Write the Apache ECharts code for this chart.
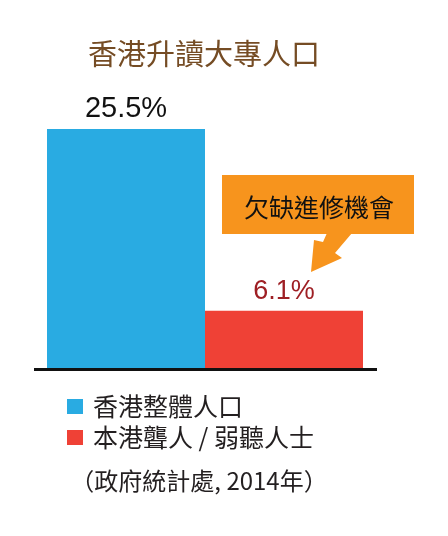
<!DOCTYPE html>
<html>
<head>
<meta charset="utf-8">
<script src="https://cdn.jsdelivr.net/npm/echarts@6/dist/echarts.min.js"></script>
<style>
  html, body { margin: 0; padding: 0; background: #ffffff; }
  #chart { width: 448px; height: 536px; }
</style>
</head>
<body>
<div id="chart"></div>
<script>
// 香港升讀大專人口比例
const categories = ['香港整體人口', '本港聾人 / 弱聽人士'];
const shares = [25.5, 6.1];
const barColors = ['#29abe2', '#ef4136'];
const labelColors = ['#111111', '#9e1f24'];
const titleText = '香港升讀大專人口';
const calloutText = '欠缺進修機會';
const sourceText = '（政府統計處, 2014年）';

const CJK = '"Noto Sans CJK TC", "Noto Sans CJK SC", sans-serif';
const LATIN = '"Liberation Sans", Arial, sans-serif';

// one stacked series per group so each bar fills its own category and gets a legend entry
const series = categories.map((name, i) => ({
  name: name,
  type: 'bar',
  stack: 'share',
  barWidth: '100%',
  itemStyle: { color: barColors[i] },
  data: shares.map((v, j) => (j === i ? v : '-')),
  label: {
    show: true,
    position: 'top',
    distance: 6,
    color: labelColors[i],
    fontFamily: LATIN,
    fontSize: i === 0 ? 29 : 27,
    formatter: p => p.value + '%'
  },
  emphasis: { disabled: true }
}));

const chart = echarts.init(document.getElementById('chart'), null, { renderer: 'canvas' });
chart.setOption({
  animation: false,
  backgroundColor: '#ffffff',
  grid: { left: 47, right: 85, top: 129, bottom: 168, containLabel: false },
  xAxis: {
    type: 'category',
    data: categories,
    axisLine: { show: false },
    axisTick: { show: false },
    axisLabel: { show: false }
  },
  yAxis: {
    type: 'value',
    min: 0,
    max: 25.5,
    show: false,
    splitLine: { show: false }
  },
  legend: {
    orient: 'vertical',
    left: 67,
    top: 394,
    padding: 0,
    itemGap: 6,
    itemWidth: 16,
    itemHeight: 15,
    icon: 'rect',
    selectedMode: false,
    textStyle: {
      fontFamily: CJK,
      fontSize: 25,
      color: '#231f20',
      padding: [0, 0, 0, 5]
    },
    data: categories
  },
  series: series,
  graphic: [
    {
      type: 'text',
      style: {
        text: titleText,
        x: 204,
        y: 54,
        textAlign: 'center',
        textVerticalAlign: 'middle',
        fill: '#754c24',
        font: '29px ' + CJK
      }
    },
    {
      // baseline under the bars
      type: 'rect',
      shape: { x: 34, y: 368, width: 343, height: 3 },
      style: { fill: '#111111' }
    },
    {
      // callout box
      type: 'rect',
      shape: { x: 222, y: 175, width: 192, height: 59 },
      style: { fill: '#f7941d' }
    },
    {
      // callout arrow pointing at the smaller bar
      type: 'polygon',
      shape: {
        points: [[327, 233], [352, 233], [335, 253], [342, 258], [311, 272], [314, 240], [323, 242]]
      },
      style: { fill: '#f7941d' }
    },
    {
      type: 'text',
      style: {
        text: calloutText,
        x: 319,
        y: 207,
        textAlign: 'center',
        textVerticalAlign: 'middle',
        fill: '#111111',
        font: '25px ' + CJK
      }
    },
    {
      type: 'text',
      style: {
        text: sourceText,
        x: 199,
        y: 481,
        textAlign: 'center',
        textVerticalAlign: 'middle',
        fill: '#231f20',
        font: '24px ' + CJK
      }
    }
  ]
});
</script>
</body>
</html>
